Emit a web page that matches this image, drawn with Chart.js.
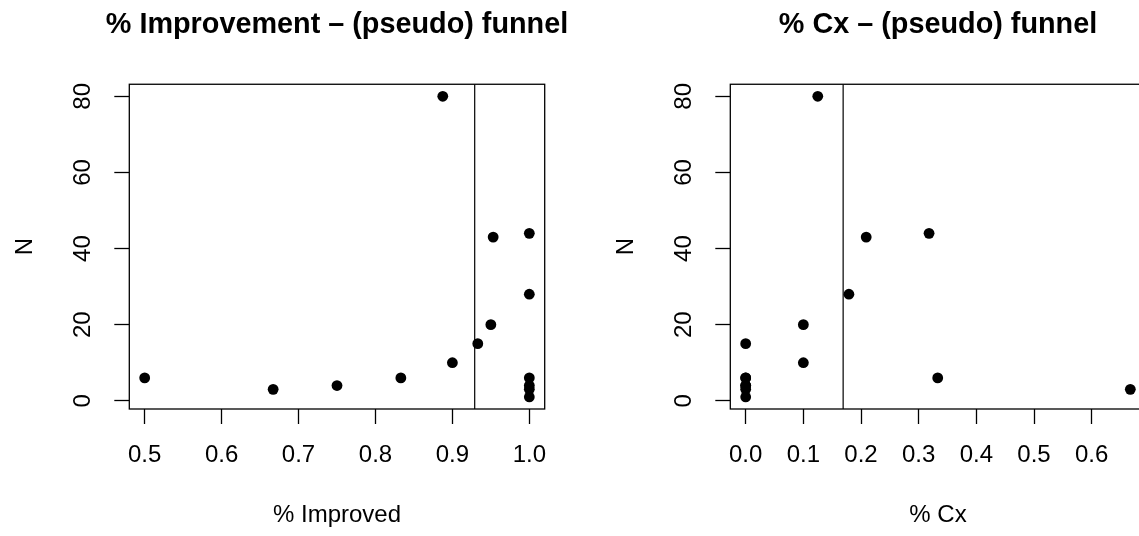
<!DOCTYPE html>
<html>
<head>
<meta charset="utf-8">
<script src="https://cdn.jsdelivr.net/npm/chart.js@4"></script>
<style>
	html, body { margin: 0; padding: 0; background: #fff; overflow: hidden; }
	#wrap { position: relative; width: 1139px; height: 536px; overflow: hidden; }
	canvas { position: absolute; top: 0; }
</style>
</head>
<body>
<div id="wrap">
	<canvas id="improvedChart" width="674" height="536" style="left:0"></canvas>
	<canvas id="cxChart" width="674" height="536" style="left:601px"></canvas>
</div>
<script>
// left panel: % improved vs N
const improvedPct = [0.5, 0.667, 0.75, 0.833, 0.8875, 0.9, 0.933, 0.95, 0.953, 1, 1, 1, 1, 1, 1]
const improvedN = [6, 3, 4, 6, 80, 10, 15, 20, 43, 44, 28, 6, 4, 3, 1]
const improvedCutoff = 0.929
const improvedTicks = [0.5, 0.6, 0.7, 0.8, 0.9, 1.0]

// right panel: % Cx vs N
const cxPct = [0, 0, 0, 0, 0, 0, 0, 0.1, 0.1, 0.125, 0.179, 0.209, 0.318, 0.333, 0.667]
const cxN = [15, 6, 6, 4, 4, 3, 1, 20, 10, 80, 28, 43, 44, 6, 3]
const cxCutoff = 0.169
const cxTicks = [0, 0.1, 0.2, 0.3, 0.4, 0.5, 0.6]

const nTicks = [0, 20, 40, 60, 80]

const family = "'Liberation Sans', Arial, Helvetica, sans-serif"
Chart.defaults.font.family = family
Chart.defaults.color = '#000'

// R style limits: data range widened by 4%
function padRange(values) {
	const lo = Math.min(...values)
	const hi = Math.max(...values)
	const d = (hi - lo) * 0.04
	return [lo - d, hi + d]
}

const boxPlugin = {
	id: 'box',
	afterDatasetsDraw(chart) {
		const { ctx, chartArea } = chart
		ctx.save()
		ctx.strokeStyle = '#000'
		ctx.lineWidth = 1.3
		ctx.strokeRect(chartArea.left, chartArea.top, chartArea.right - chartArea.left, chartArea.bottom - chartArea.top)
		ctx.restore()
	},
}

function makePanel(id, title, xLabel, xs, ys, xTicks, cutoff) {
	const [xMin, xMax] = padRange(xs)
	const [yMin, yMax] = padRange(ys)
	const tickGrid = {
		display: true,
		drawOnChartArea: false,
		drawTicks: true,
		tickLength: 15,
		tickColor: '#000',
		tickWidth: 1.3,
	}
	return new Chart(document.getElementById(id), {
		type: 'scatter',
		data: {
			datasets: [
				{
					type: 'line',
					yAxisID: 'y',
					data: [
						{ x: cutoff, y: yMin },
						{ x: cutoff, y: yMax },
					],
					borderColor: '#000',
					borderWidth: 1.2,
					pointRadius: 0,
					fill: false,
				},
				{
					yAxisID: 'y',
					data: xs.map((x, i) => ({ x: x, y: ys[i] })),
					backgroundColor: '#000',
					borderWidth: 0,
					pointRadius: 5.4,
				},
			],
		},
		options: {
			responsive: false,
			animation: false,
			events: [],
			layout: { padding: 0 },
			plugins: {
				legend: { display: false },
				tooltip: { enabled: false },
				title: {
					display: true,
					text: title,
					color: '#000',
					font: { size: 28.8, weight: 'bold' },
					padding: { top: 8, bottom: 41.7 },
				},
			},
			scales: {
				x: {
					type: 'linear',
					position: 'bottom',
					min: xMin,
					max: xMax,
					afterBuildTicks: s => {
						s.ticks = xTicks.map(v => ({ value: v }))
					},
					afterFit: s => {
						s.height = 127
					},
					ticks: {
						callback: v => v.toFixed(1),
						font: { size: 24 },
						color: '#000',
						padding: 16.6,
						maxRotation: 0,
						autoSkip: false,
					},
					grid: tickGrid,
					border: { display: false },
					title: {
						display: true,
						text: xLabel,
						color: '#000',
						font: { size: 24 },
						padding: { top: 0, bottom: 6.6 },
					},
				},
				y: {
					type: 'linear',
					position: 'left',
					min: yMin,
					max: yMax,
					afterBuildTicks: s => {
						s.ticks = nTicks.map(v => ({ value: v }))
					},
					afterFit: s => {
						s.width = 129.3
					},
					ticks: {
						callback: v => String(v),
						font: { size: 24 },
						color: '#000',
						minRotation: 90,
						maxRotation: 90,
						crossAlign: 'center',
						padding: 17.6,
						autoSkip: false,
					},
					grid: tickGrid,
					border: { display: false },
					title: {
						display: true,
						text: 'N',
						color: '#000',
						font: { size: 24 },
						padding: { top: 10.6, bottom: 0 },
					},
				},
				// empty right margin, same width as the left axis, so the title centres over the plot
				yRight: {
					type: 'linear',
					position: 'right',
					min: yMin,
					max: yMax,
					afterFit: s => {
						s.width = 129.3
					},
					ticks: { display: false },
					grid: { display: false },
					border: { display: false },
				},
			},
		},
		plugins: [boxPlugin],
	})
}

makePanel('improvedChart', '% Improvement – (pseudo) funnel', '% Improved', improvedPct, improvedN, improvedTicks, improvedCutoff)
makePanel('cxChart', '% Cx – (pseudo) funnel', '% Cx', cxPct, cxN, cxTicks, cxCutoff)
</script>
</body>
</html>
